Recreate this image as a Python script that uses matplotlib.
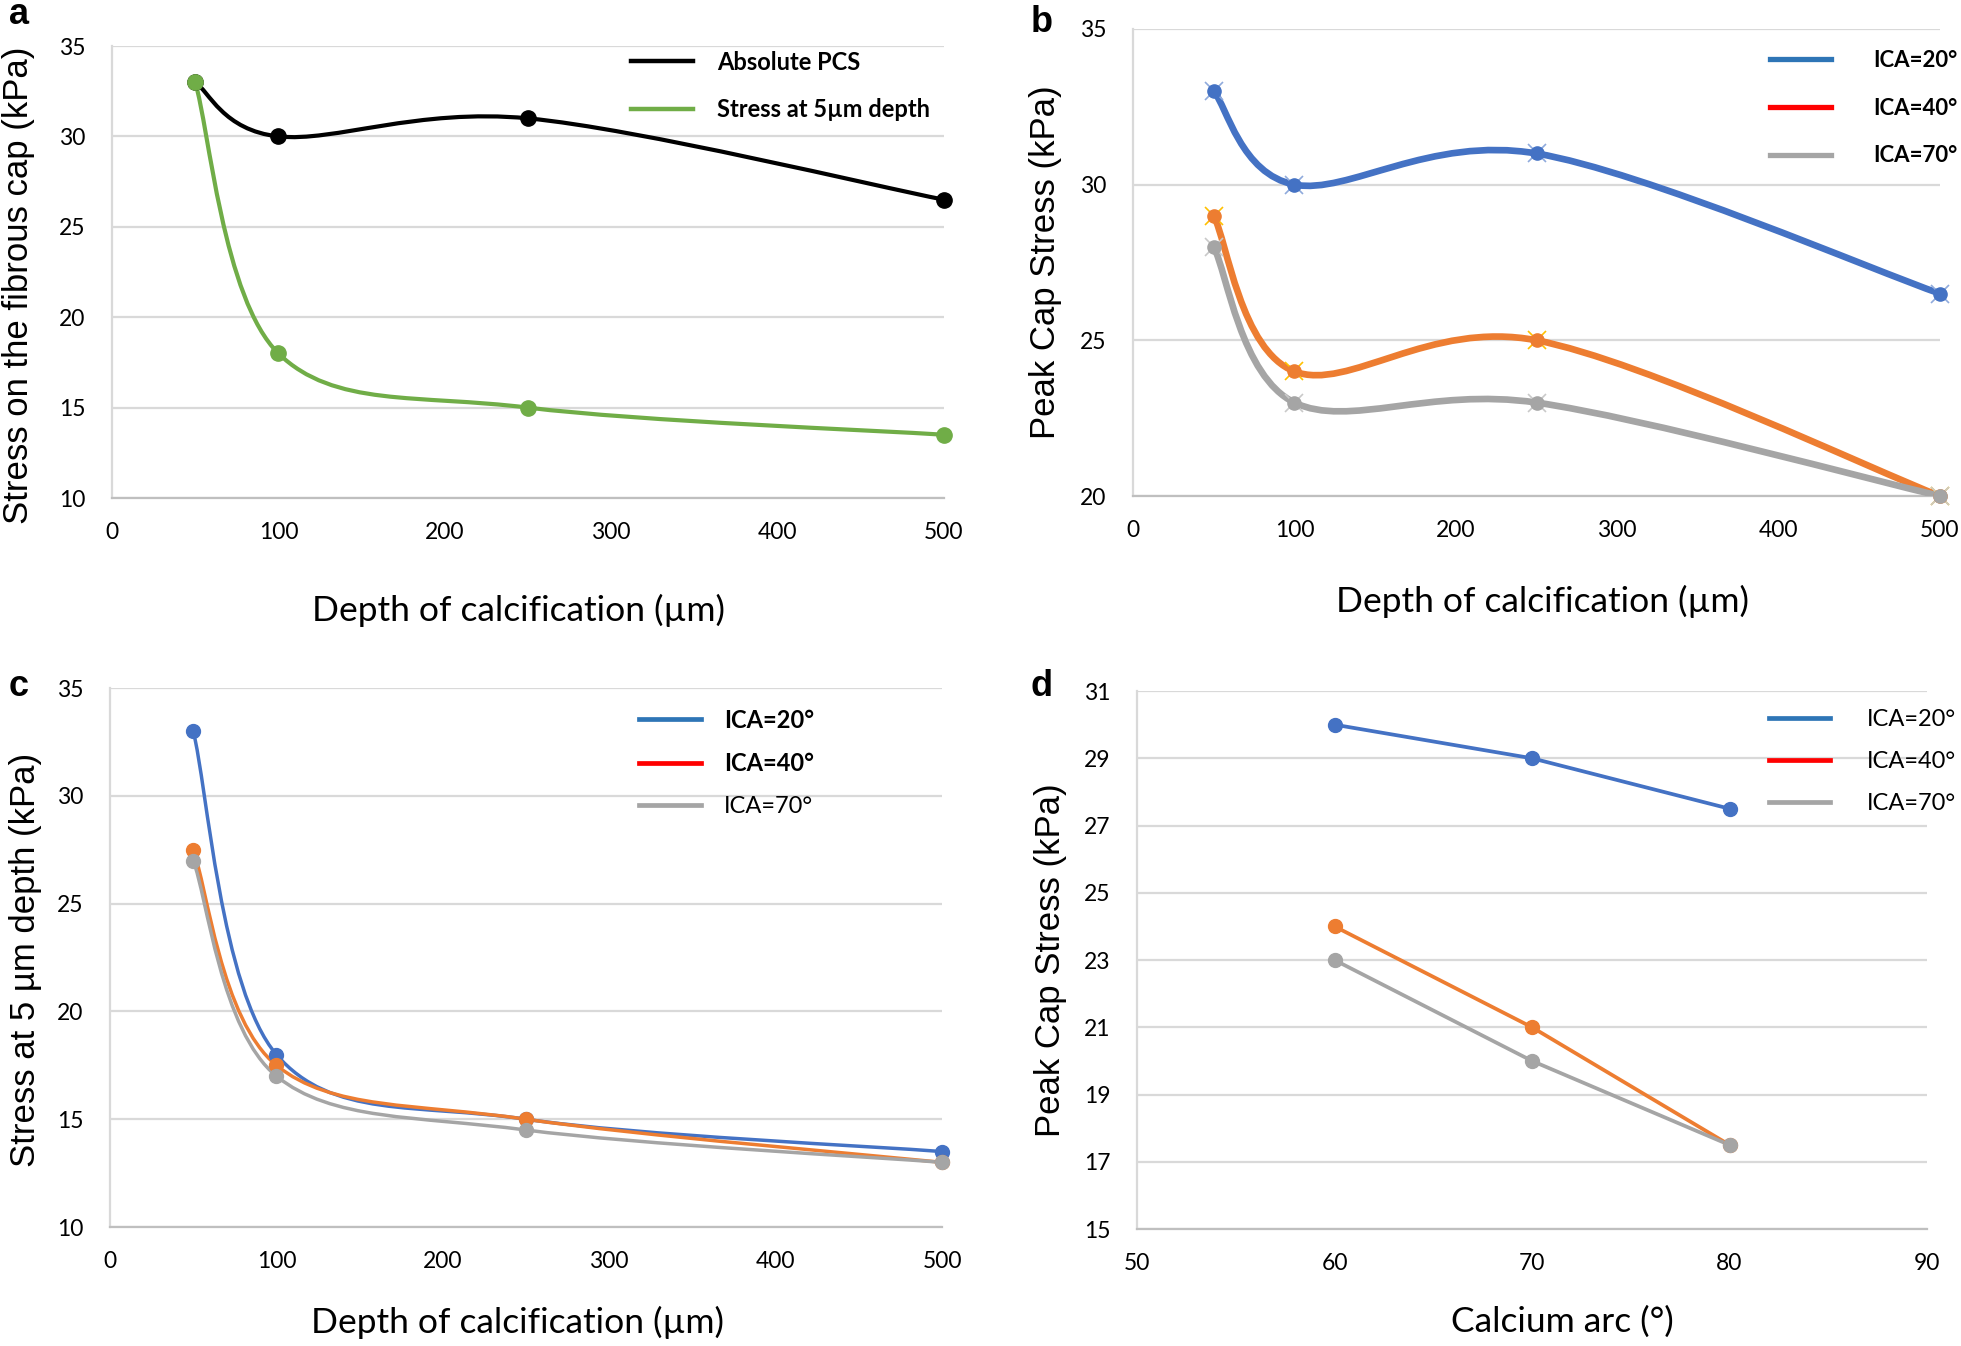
import matplotlib.pyplot as plt
from matplotlib.path import Path
from matplotlib.patches import PathPatch
from matplotlib.lines import Line2D

# ---- data ----
depth = [50, 100, 250, 500]
abs_pcs = [33, 30, 31, 26.5]
stress_5um = [33, 18, 15, 13.5]

pcs_20 = [33, 30, 31, 26.5]
pcs_40 = [29, 24, 25, 20]
pcs_70 = [28, 23, 23, 20]

s5_20 = [33, 18, 15, 13.5]
s5_40 = [27.5, 17.5, 15, 13]
s5_70 = [27, 17, 14.5, 13]

arc = [60, 70, 80]
arc_20 = [30, 29, 27.5]
arc_40 = [24, 21, 17.5]
arc_70 = [23, 20, 17.5]

ica_labels = ['ICA=20°', 'ICA=40°', 'ICA=70°']

BLUE, ORANGE, GRAY, GREEN = '#4472C4', '#ED7D31', '#A5A5A5', '#70AD47'
LEG_COLORS = ['#2E75B6', '#FF0000', '#A5A5A5']

plt.rcParams['font.family'] = ['Lato', 'DejaVu Sans']
YFONT = 'Liberation Sans'


def smooth_path(x, y):
    # Excel-style smoothed line: Catmull-Rom as cubic Bezier segments
    pts = list(zip(x, y))
    n = len(pts)
    verts, codes = [pts[0]], [Path.MOVETO]
    for i in range(n - 1):
        p0, p1 = pts[max(i - 1, 0)], pts[i]
        p2, p3 = pts[i + 1], pts[min(i + 2, n - 1)]
        c1 = (p1[0] + (p2[0] - p0[0]) / 6, p1[1] + (p2[1] - p0[1]) / 6)
        c2 = (p2[0] - (p3[0] - p1[0]) / 6, p2[1] - (p3[1] - p1[1]) / 6)
        verts += [c1, c2, p2]
        codes += [Path.CURVE4] * 3
    return Path(verts, codes)


def series(ax, x, y, color, lw, ms, smooth=True, star=None):
    if smooth:
        ax.add_patch(PathPatch(smooth_path(x, y), fill=False, ec=color, lw=lw,
                               capstyle='round', joinstyle='round', zorder=3))
    else:
        ax.plot(x, y, color=color, lw=lw, solid_capstyle='round', zorder=3)
    if star:
        ax.plot(x, y, 'x', color=star, ms=ms + 3, mew=1.2, clip_on=False, zorder=4)
    ax.plot(x, y, 'o', color=color, ms=ms, clip_on=False, zorder=5)


def style(ax, xlim, ylim, xticks, yticks):
    ax.set_xlim(xlim)
    ax.set_ylim(ylim)
    ax.set_xticks(xticks)
    ax.set_yticks(yticks)
    ax.grid(axis='y', color='#D9D9D9', lw=1.6)
    ax.set_axisbelow(True)
    for s in ['top', 'right']:
        ax.spines[s].set_visible(False)
    ax.spines['left'].set_color('#D9D9D9')
    ax.spines['left'].set_linewidth(1.6)
    ax.spines['bottom'].set_color('#BFBFBF')
    ax.spines['bottom'].set_linewidth(1.6)
    ax.tick_params(axis='both', length=0, labelsize=16.5)
    ax.tick_params(axis='y', pad=19)
    ax.tick_params(axis='x', pad=17)


def labels(ax, xlabel, ylabel, xpos, ypos):
    ax.set_xlabel(xlabel, fontsize=25.5, va='top')
    ax.xaxis.set_label_coords(*xpos)
    ax.set_ylabel(ylabel, fontsize=25, family=YFONT, va='center')
    ax.yaxis.set_label_coords(*ypos)


def legend(ax, colors, texts, lw, anchor, textpad, weights, spacing=1.0, size=17):
    handles = [Line2D([], [], color=c, lw=lw) for c in colors]
    leg = ax.legend(handles, texts, loc='upper left', bbox_to_anchor=anchor,
                    frameon=False, borderpad=0, borderaxespad=0,
                    handlelength=2.6 * 17 / size, handletextpad=textpad,
                    labelspacing=spacing, prop={'size': size})
    for t, w in zip(leg.get_texts(), weights):
        t.set_fontweight(w)


fig = plt.figure(figsize=(19.61, 13.46), dpi=100)

# ---- a ----
ax = fig.add_axes([0.0571, 0.630, 0.4243, 0.3358])
style(ax, (0, 500), (10, 35), range(0, 501, 100), range(10, 36, 5))
series(ax, depth, abs_pcs, 'black', 3.0, 11)
series(ax, depth, stress_5um, GREEN, 3.0, 11)
labels(ax, 'Depth of calcification (µm)', 'Stress on the fibrous cap (kPa)',
       (0.489, -0.212), (-0.112, 0.471))
legend(ax, ['black', GREEN], ['Absolute PCS', 'Stress at 5µm depth'], 3.2,
       (0.624, 0.99), 1.05, ['bold', 'bold'], spacing=1.05)

# ---- b ----
ax = fig.add_axes([0.5778, 0.6315, 0.4115, 0.347])
style(ax, (0, 500), (20, 35), range(0, 501, 100), range(20, 36, 5))
series(ax, depth, pcs_20, BLUE, 4.8, 9.5, star='#8FAADC')
series(ax, depth, pcs_40, ORANGE, 4.8, 9.5, star='#FFC000')
series(ax, depth, pcs_70, GRAY, 4.8, 9.5, star='#C9C9C9')
labels(ax, 'Depth of calcification (µm)', 'Peak Cap Stress (kPa)',
       (0.508, -0.19), (-0.108, 0.50))
legend(ax, LEG_COLORS, ica_labels, 3.8, (0.789, 0.955), 1.9, ['bold'] * 3,
       spacing=1.2, size=16)

# ---- c ----
ax = fig.add_axes([0.0561, 0.0884, 0.4243, 0.4004])
style(ax, (0, 500), (10, 35), range(0, 501, 100), range(10, 36, 5))
series(ax, depth, s5_20, BLUE, 2.5, 10)
series(ax, depth, s5_40, ORANGE, 2.5, 10)
series(ax, depth, s5_70, GRAY, 2.5, 10)
labels(ax, 'Depth of calcification (µm)', 'Stress at 5 µm depth (kPa)',
       (0.49, -0.147), (-0.102, 0.495))
legend(ax, LEG_COLORS, ica_labels, 3.4, (0.636, 0.962), 1.0,
       ['bold', 'bold', 'normal'], spacing=0.88)

# ---- d ----
ax = fig.add_axes([0.5798, 0.0869, 0.4029, 0.3997])
style(ax, (50, 90), (15, 31), range(50, 91, 10), range(15, 32, 2))
series(ax, arc, arc_20, BLUE, 2.7, 10, smooth=False)
series(ax, arc, arc_40, ORANGE, 2.7, 10, smooth=False)
series(ax, arc, arc_70, GRAY, 2.7, 10, smooth=False)
labels(ax, 'Calcium arc (°)', 'Peak Cap Stress (kPa)',
       (0.538, -0.143), (-0.110, 0.50))
legend(ax, LEG_COLORS, ica_labels, 3.4, (0.80, 0.966), 1.55, ['normal'] * 3,
       spacing=0.88)

# panel letters
for letter, x, y in [('a', 19, 15), ('b', 1042, 23), ('c', 19, 686), ('d', 1042, 686)]:
    fig.text(x / 1961, 1 - y / 1346, letter, fontsize=26, fontweight='bold',
             family=YFONT, ha='center', va='center')

fig.savefig('out.png', dpi=100)
